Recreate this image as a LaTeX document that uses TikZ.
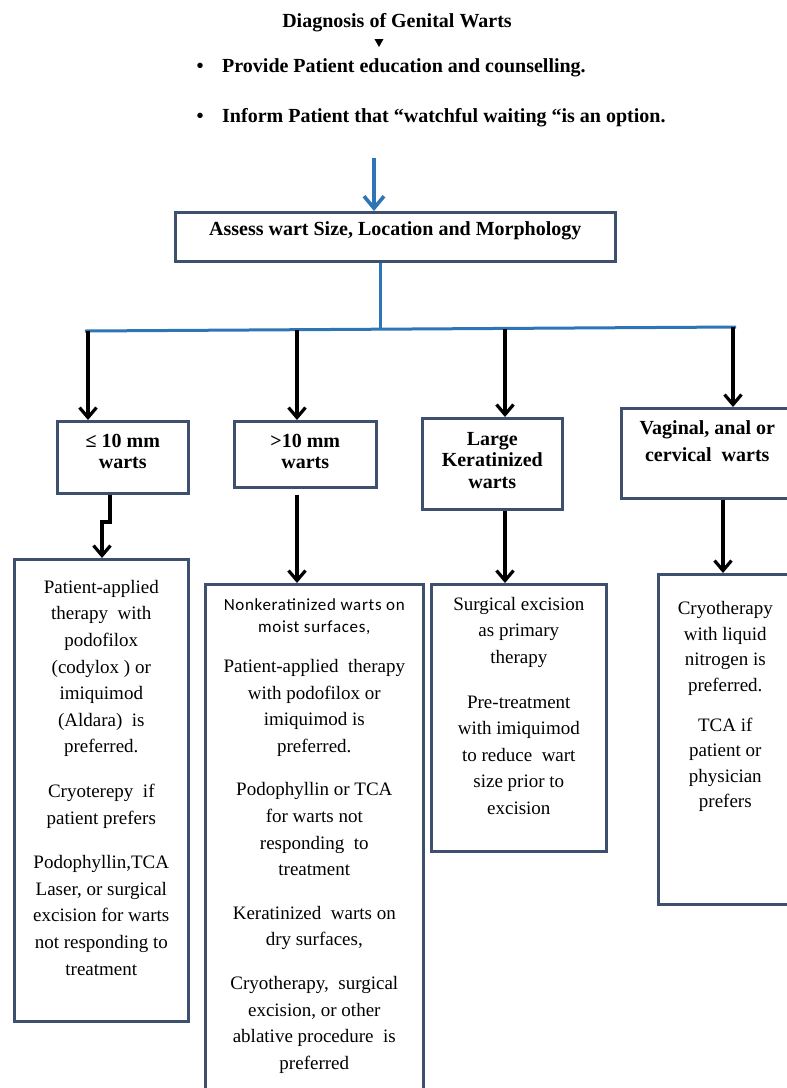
\documentclass[tikz,border=0pt]{standalone}
\usepackage{fontspec}
\setmainfont{Liberation Serif}
\newfontfamily\sansf[LetterSpace=4]{Carlito}
\usetikzlibrary{arrows.meta}
\definecolor{boxc}{RGB}{62,80,110}
\definecolor{busblue}{RGB}{46,117,182}
\newcommand\cellbody[4]{\parbox[t][#2][t]{#1}{\centering\vspace*{#3}#4}}
\newcommand\hdfont{\bfseries\fontsize{20}{21.5}\selectfont}
\newcommand\bodyfont{\fontsize{19}{26.6}\selectfont}
\tikzset{
  cell/.style={draw=boxc, line width=2.6pt, inner sep=0pt, anchor=north west},
  arr/.style={draw=black, line width=3.2pt, -{Straight Barb[length=10pt,width=17pt]}},
  bluearr/.style={draw=busblue, line width=3.6pt, -{Straight Barb[length=12pt,width=20pt]}},
  busline/.style={draw=busblue, line width=3pt},
  hd/.style={font=\bfseries\fontsize{20}{24}\selectfont, inner sep=0pt}
}
\begin{document}
\begin{tikzpicture}[x=1pt,y=-1pt]
\useasboundingbox (0,0) rectangle (787,1088);

% header texts
\node[hd, anchor=base] (title) at (397,27) {Diagnosis of Genital Warts};
\fill (374.5,39) -- (383.5,39) -- (379,47) -- cycle;
\node[hd, anchor=base] (bul1) at (200,72) {•};
\node[hd, anchor=base west] (line1) at (222,72) {Provide Patient education and counselling.};
\node[hd, anchor=base] (bul2) at (200,122) {•};
\node[hd, anchor=base west] (line2) at (222,122) {Inform Patient that “watchful waiting “is an option.};

% boxes
\node[cell] (b0) at (174,211) {\cellbody{440pt}{49pt}{8.6pt}{\hdfont\strut Assess wart Size, Location and Morphology}};
\node[cell] (b1) at (56,420) {\cellbody{131pt}{72pt}{11pt}{\hdfont\strut ≤ 10 mm\\ warts}};
\node[cell] (b2) at (233,420) {\cellbody{142pt}{66pt}{11pt}{\hdfont\strut >10 mm\\ warts}};
\node[cell] (b3) at (421,417) {\cellbody{140pt}{91pt}{12pt}{\hdfont\strut Large\\ Keratinized\\ warts}};
\node[cell] (b4) at (620,407) {\cellbody{172pt}{90pt}{7.1pt}{\bfseries\fontsize{20}{27}\selectfont\strut Vaginal, anal or\\ cervical\ \ warts}};

\node[cell] (b5) at (13,558) {\cellbody{174pt}{462pt}{15.4pt}{\bodyfont\strut Patient-applied\\ therapy\ \ with\\ podofilox\\ (codylox ) or\\ imiquimod\\ (Aldara)\ \ is\\ preferred.\\[18pt] Cryoterepy\ \ if\\ patient prefers\\[18pt] Podophyllin,TCA\\ Laser, or surgical\\ excision for warts\\ not responding to\\ treatment}};

\node[cell] (b6) at (204,583) {\cellbody{218pt}{520pt}{10.6pt}{{\sansf\fontsize{17}{22}\selectfont\strut Nonkeratinized warts on\\ moist surfaces,\par}\vspace{13.6pt}{\bodyfont Patient-applied\ \ therapy\\ with podofilox or\\ imiquimod is\\ preferred.\\[17pt] Podophyllin or TCA\\ for warts not\\ responding\ \ to\\ treatment\\[17pt] Keratinized\ \ warts on\\ dry surfaces,\\[17pt] Cryotherapy,\ \ surgical\\ excision, or other\\ ablative procedure\ \ is\\ preferred\par}}};

\node[cell] (b7) at (430,583) {\cellbody{175pt}{267pt}{7.4pt}{\bodyfont\strut Surgical excision\\ as primary\\ therapy\\[18pt] Pre-treatment\\ with imiquimod\\ to reduce\ \ wart\\ size prior to\\ excision}};

\node[cell] (b8) at (657,573) {\cellbody{134pt}{330pt}{22.4pt}{\fontsize{19}{25.5}\selectfont\strut Cryotherapy\\ with liquid\\ nitrogen is\\ preferred.\\[14.5pt] TCA if\\ patient or\\ physician\\ prefers}};

% connectors
\coordinate (src) at (374,158);
\draw[bluearr] (src) -- (src |- b0.north);
\coordinate (hub) at (380,329.5);
\draw[busline] (b0.south -| hub) -- (hub);
\coordinate (busL) at (85,331);
\coordinate (busR) at (736,327);
\draw[busline] (busL) -- (busR);
\coordinate (d1) at (88,331);
\coordinate (d2) at (297,330);
\coordinate (d3) at (505,329);
\coordinate (d4) at (733,327);
\draw[arr] (d1) -- (d1 |- b1.north);
\draw[arr] (d2) -- (d2 |- b2.north);
\draw[arr] (d3) -- (d3 |- b3.north);
\draw[arr] (d4) -- (d4 |- b4.north);
\coordinate (j1) at (110,522);
\coordinate (j2) at (102,522);
\draw[arr] (b1.south -| j1) -- (j1) -- (j2) -- (j2 |- b5.north);
\draw[arr] ([yshift=-6pt]b2.south -| d2) -- (d2 |- b6.north);
\draw[arr] (b3.south -| d3) -- (d3 |- b7.north);
\coordinate (d8) at (723,0);
\draw[arr] (b4.south -| d8) -- (d8 |- b8.north);
\end{tikzpicture}
\end{document}
